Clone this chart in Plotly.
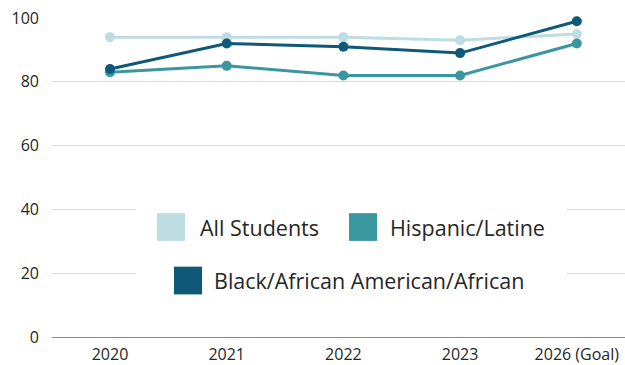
import plotly.graph_objects as go

categories = ["2020", "2021", "2022", "2023", "2026 (Goal)"]
series_names = ["All Students", "Hispanic/Latine", "Black/African American/African"]
all_students = [94, 94, 94, 93, 95]
hispanic_latine = [83, 85, 82, 82, 92]
black_african = [84, 92, 91, 89, 99]
y_ticks = [0, 20, 40, 60, 80, 100]

colors = ["#BEDDE2", "#3A979F", "#0E5878"]
values = [all_students, hispanic_latine, black_african]

W, H = 625, 365
L, R, T, B = 52, 0, 18, 25
pw, ph = W - L - R, H - T - B

def px(x):
    return (x - L) / pw

def py(y):
    return (H - B - y) / ph

FONT = "Open Sans"

fig = go.Figure()
for name, vals, c in zip(series_names, values, colors):
    fig.add_trace(go.Scatter(
        x=list(range(len(categories))), y=vals, name=name, mode="lines+markers",
        line=dict(color=c, width=3), marker=dict(color=c, size=10),
        cliponaxis=False, showlegend=False,
    ))

fig.update_layout(
    width=W, height=H,
    margin=dict(l=L, r=R, t=T, b=B),
    paper_bgcolor="white", plot_bgcolor="white",
    font=dict(family=FONT, color="#262626", size=16),
    xaxis=dict(
        tickmode="array", tickvals=list(range(len(categories))), ticktext=categories,
        range=[-0.497, 4.413], showgrid=False, zeroline=False,
        showline=True, linecolor="#8c8c8c", linewidth=1,
        ticklabelstandoff=3,
    ),
    yaxis=dict(
        range=[0, 100], tickvals=y_ticks, showgrid=True, gridcolor="#d9d9d9",
        gridwidth=1, zeroline=False, showline=False, ticklabelstandoff=12,
    ),
)

# Manual legend with large square swatches
shapes = [dict(type="rect", xref="paper", yref="paper",
               x0=px(136), x1=px(567), y0=py(305), y1=py(200),
               fillcolor="white", line=dict(width=0), layer="above")]
legend_items = [
    (157, 229, 198),
    (349, 229, 388),
    (174, 283, 212),
]
annotations = []
for (sx, cy, tx), name, c in zip(legend_items, series_names, colors):
    shapes.append(dict(type="rect", xref="paper", yref="paper",
                       x0=px(sx), x1=px(sx + 28), y0=py(cy + 14), y1=py(cy - 14),
                       fillcolor=c, line=dict(width=0), layer="above"))
    annotations.append(dict(text=name, xref="paper", yref="paper",
                            x=px(tx), y=py(cy), xanchor="left", yanchor="middle",
                            showarrow=False, font=dict(size=21.5, family=FONT, color="#262626")))

fig.update_layout(shapes=shapes, annotations=annotations)
fig.write_html("out.html")
